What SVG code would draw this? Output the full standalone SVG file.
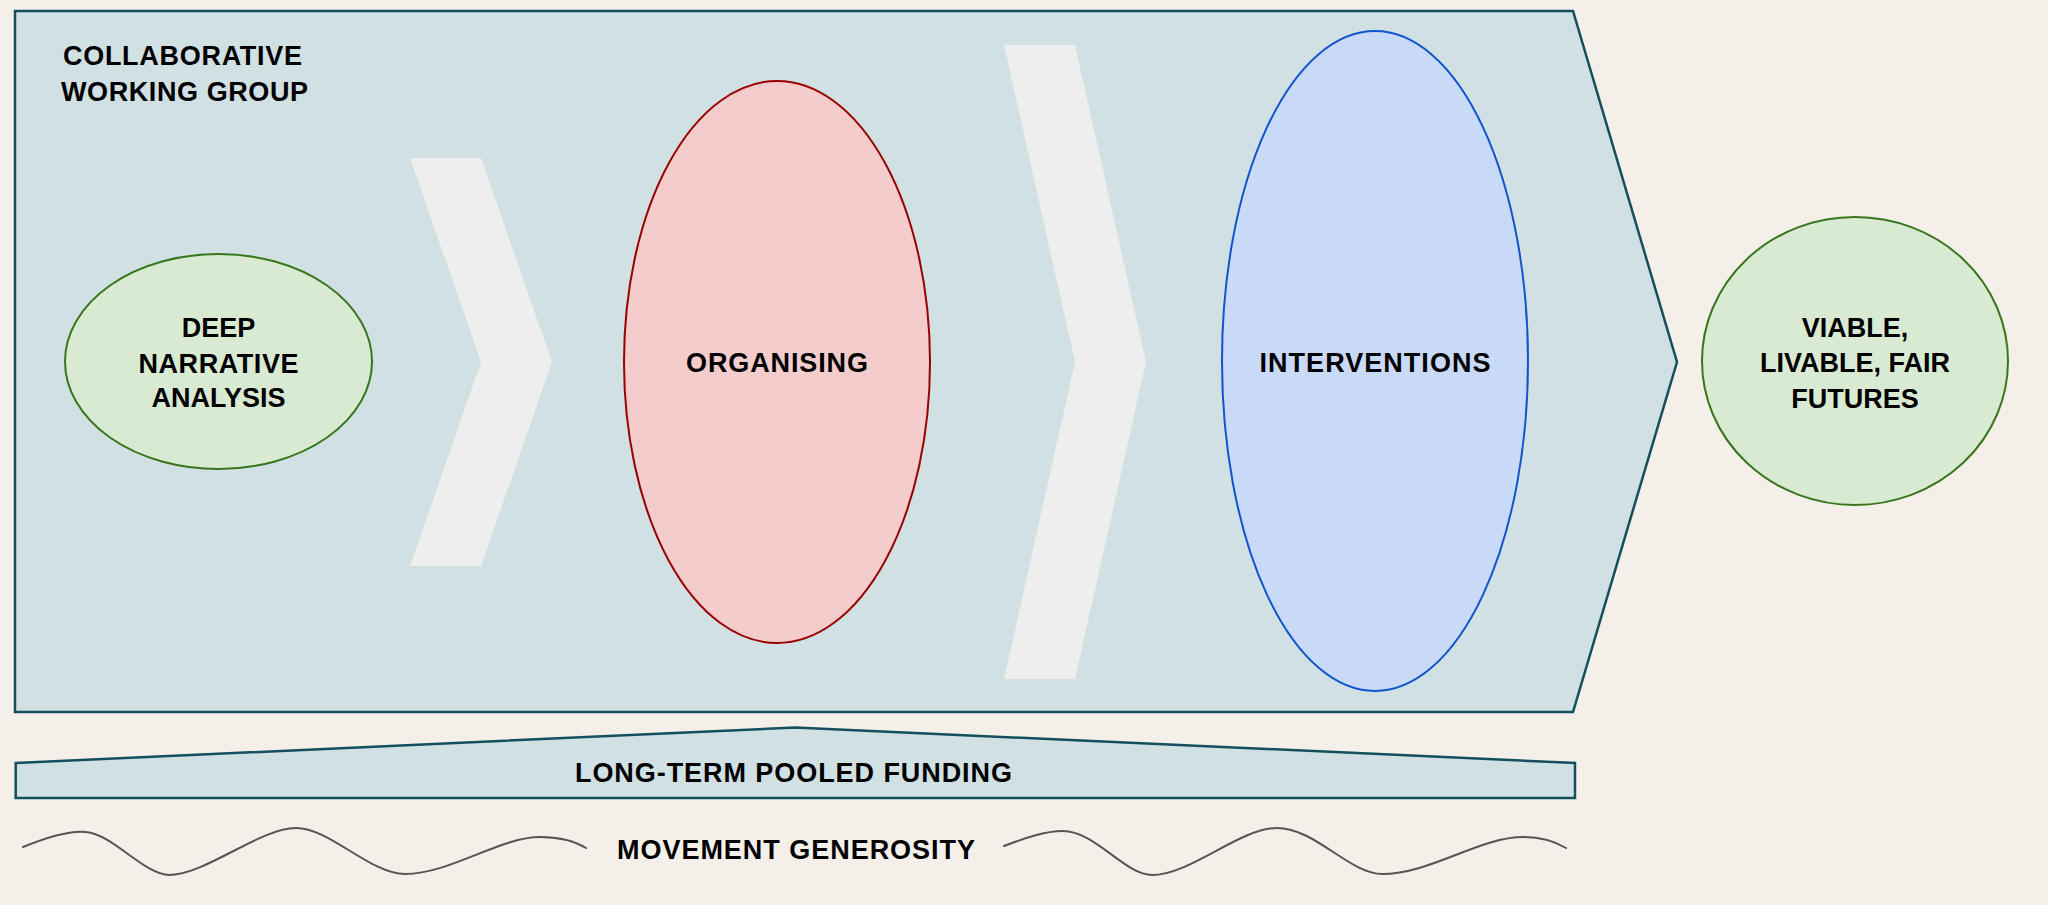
<svg xmlns="http://www.w3.org/2000/svg" width="2048" height="905" viewBox="0 0 2048 905">
<style>
.t{font-family:"Liberation Sans",Arial,sans-serif;font-weight:bold;font-size:27px;fill:#000;}
.c{text-anchor:middle;}
.green{fill:#d9ead3;stroke:#38761d;stroke-width:2;}
.chev{fill:#eeeeee;stroke:none;}
.frame{fill:#d0e0e3;stroke:#134f5c;stroke-width:2.5;stroke-linejoin:miter;}
.wave{fill:none;stroke:#555555;stroke-width:2;stroke-linecap:round;}
</style>
<rect width="2048" height="905" fill="#f4f0e9"/>
<g id="collaborative-working-group">
<path class="frame" d="M15,11 L1573,11 L1677,362 L1573,712 L15,712 Z"/>
<text class="t" x="63" y="65" textLength="239" lengthAdjust="spacing">COLLABORATIVE</text>
<text class="t" x="61" y="101" textLength="247" lengthAdjust="spacing">WORKING GROUP</text>
</g>
<g id="connectors">
<path class="chev" d="M410,158 L481,158 L552,362 L481,566 L410,566 L481,362 Z"/>
<path class="chev" d="M1004,45 L1075,45 L1146,362 L1075,679 L1004,679 L1075,362 Z"/>
</g>
<g id="deep-narrative-analysis">
<ellipse class="green" cx="218.5" cy="361.5" rx="153.5" ry="107.5"/>
<text class="t c" x="218.5" y="337">DEEP</text>
<text class="t c" x="218.5" y="372.5" textLength="160" lengthAdjust="spacing">NARRATIVE</text>
<text class="t c" x="218.5" y="407">ANALYSIS</text>
</g>
<g id="organising">
<ellipse cx="777" cy="362" rx="153" ry="281" fill="#f4cccc" stroke="#990000" stroke-width="2"/>
<text class="t c" x="777" y="372" textLength="182" lengthAdjust="spacing">ORGANISING</text>
</g>
<g id="interventions">
<ellipse cx="1375" cy="361" rx="153" ry="330" fill="#c9daf8" stroke="#1155cc" stroke-width="2"/>
<text class="t c" x="1375" y="372" textLength="231" lengthAdjust="spacing">INTERVENTIONS</text>
</g>
<g id="viable-livable-fair-futures">
<ellipse class="green" cx="1855" cy="361" rx="153" ry="144"/>
<text class="t c" x="1855" y="337">VIABLE,</text>
<text class="t c" x="1855" y="372">LIVABLE, FAIR</text>
<text class="t c" x="1855" y="408">FUTURES</text>
</g>
<g id="long-term-pooled-funding">
<path class="frame" d="M15.7,763 L795,727.5 L1575,763 L1575,798 L15.7,798 Z" stroke-width="2"/>
<text class="t c" x="793.5" y="782" textLength="437" lengthAdjust="spacing">LONG-TERM POOLED FUNDING</text>
</g>
<g id="movement-generosity">
<path class="wave" d="M23,847 C45,838 68,830 86,832 C112,834 145,875 169,875 C205,875 260,828 296,828 C330,828 370,874 405,874 C450,874 500,837 540,837 C560,837 576,842 586,848"/>
<path class="wave" d="M1004,846 C1025,838 1045,831 1063,831 C1095,831 1125,875 1152,875 C1190,875 1240,828 1277,828 C1315,828 1350,874 1382,874 C1430,874 1480,837 1523,837 C1540,837 1556,842 1566,848"/>
<text class="t c" x="796" y="859" textLength="358" lengthAdjust="spacing">MOVEMENT GENEROSITY</text>
</g>
</svg>
